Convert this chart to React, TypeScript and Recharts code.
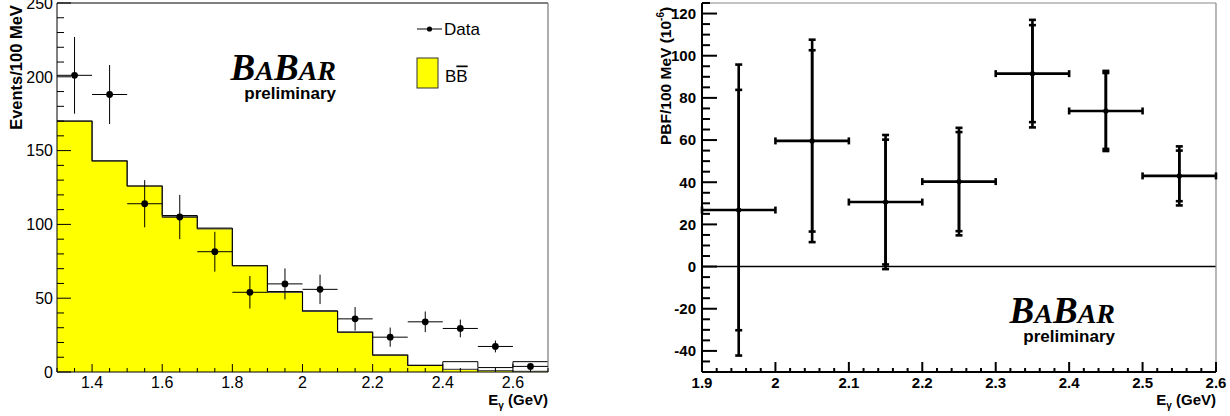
import React from 'react';
import { ComposedChart, Area, Line, Scatter, XAxis, YAxis, ErrorBar, ReferenceLine } from 'recharts';

// ---------- Left panel: photon spectrum ----------
const binLowEdges = [1.3, 1.4, 1.5, 1.6, 1.7, 1.8, 1.9, 2.0, 2.1, 2.2, 2.3, 2.4, 2.5, 2.6];
const binUpperEdge = 2.7;
const bbHist = [170, 143, 126, 105, 97, 72, 54, 41, 27, 11.5, 4.5, 1.8, 1, 0.5];
const totalHist = [170, 143, 126, 106, 97.5, 72, 54.5, 41.5, 27, 11.5, 4.5, 7, 3, 7];
const dataEnergy = [1.35, 1.45, 1.55, 1.65, 1.75, 1.85, 1.95, 2.05, 2.15, 2.25, 2.35, 2.45, 2.55, 2.65];
const dataEvents = [201, 188, 114, 105, 81.5, 54, 59.7, 56, 36, 23.6, 34, 29.5, 17.3, 3.8];
const dataEventsErr = [26, 20, 16, 15, 13.5, 11, 10.5, 10, 8, 6.5, 7, 6, 4, 2];
const dataBinHalfWidth = [0.05, 0.05, 0.05, 0.05, 0.05, 0.05, 0.05, 0.05, 0.05, 0.05, 0.05, 0.05, 0.05, 0.05];

const leftXMajor = [1.4, 1.6, 1.8, 2.0, 2.2, 2.4, 2.6];
const leftXLabels = ['1.4', '1.6', '1.8', '2', '2.2', '2.4', '2.6'];
const leftYMajor = [0, 50, 100, 150, 200, 250];
const leftYLabels = ['0', '50', '100', '150', '200', '250'];

// ---------- Right panel: partial branching fraction ----------
const pbfEnergy = [1.95, 2.05, 2.15, 2.25, 2.35, 2.45, 2.55];
const pbfValue = [26.8, 59.6, 30.6, 40.3, 91.5, 73.8, 43];
const pbfStatErr = [57, 43, 29.6, 23.5, 23, 18, 12];
const pbfTotErr = [69, 48, 31.8, 25.5, 25.5, 19, 14];
const pbfBinHalfWidth = [0.05, 0.05, 0.05, 0.05, 0.05, 0.05, 0.05];

const rightXMajor = [1.9, 2.0, 2.1, 2.2, 2.3, 2.4, 2.5, 2.6];
const rightXLabels = ['1.9', '2', '2.1', '2.2', '2.3', '2.4', '2.5', '2.6'];
const rightYMajor = [-40, -20, 0, 20, 40, 60, 80, 100, 120];
const rightYLabels = ['-40', '-20', '0', '20', '40', '60', '80', '100', '120'];

// tick helpers (major ticks subdivided into minor ones)
function subdivide(lo: number, hi: number, step: number): number[] {
  const out: number[] = [];
  const n = Math.round((hi - lo) / step);
  for (let i = 0; i <= n; i++) out.push(Math.round((lo + i * step) * 1000) / 1000);
  return out;
}
const near = (a: number, b: number) => Math.abs(a - b) < 1e-6;

const histRows = [
  ...binLowEdges.map((x, i) => ({ x, bb: bbHist[i], tot: totalHist[i] })),
  { x: binUpperEdge, bb: bbHist[bbHist.length - 1], tot: totalHist[totalHist.length - 1] },
];
const dataRows = dataEnergy.map((x, i) => ({ x, y: dataEvents[i], ey: dataEventsErr[i], ex: dataBinHalfWidth[i] }));
const pbfRows = pbfEnergy.map((x, i) => ({ x, y: pbfValue[i], stat: pbfStatErr[i], tot: pbfTotErr[i], ex: pbfBinHalfWidth[i] }));

const SANS = '"Liberation Sans", Arial, Helvetica, sans-serif';
const SERIF = '"Liberation Serif", "Times New Roman", serif';

function makeYTick(majors: number[], labels: string[], majorLen: number, minorLen: number, gap: number, font: any, sw: number) {
  return (props: any) => {
    const { x, y, payload } = props;
    const idx = majors.findIndex((m) => near(m, payload.value));
    const isMajor = idx >= 0;
    return (
      <g>
        <line x1={x} y1={y} x2={x + (isMajor ? majorLen : minorLen)} y2={y} stroke="#000" strokeWidth={sw} />
        {isMajor && (
          <text x={x - gap} y={y} dy="0.36em" textAnchor="end" fill="#000" {...font}>
            {labels[idx]}
          </text>
        )}
      </g>
    );
  };
}

function makeXTick(majors: number[], labels: string[], majorLen: number, minorLen: number, gap: number, font: any, sw: number) {
  return (props: any) => {
    const { x, y, payload } = props;
    const idx = majors.findIndex((m) => near(m, payload.value));
    const isMajor = idx >= 0;
    return (
      <g>
        <line x1={x} y1={y} x2={x} y2={y - (isMajor ? majorLen : minorLen)} stroke="#000" strokeWidth={sw} />
        {isMajor && (
          <text x={x} y={y + gap} textAnchor="middle" fill="#000" {...font}>
            {labels[idx]}
          </text>
        )}
      </g>
    );
  };
}

const leftFont = { fontFamily: SANS, fontSize: 16 };
const rightFont = { fontFamily: SANS, fontSize: 15, fontWeight: 'bold' };

const BigDot = (props: any) => {
  const { cx, cy } = props;
  if (cx == null || cy == null) return null;
  return <circle cx={cx} cy={cy} r={3.4} fill="#000" />;
};
const SmallDot = (props: any) => {
  const { cx, cy } = props;
  if (cx == null || cy == null) return null;
  return <circle cx={cx} cy={cy} r={2.6} fill="#000" />;
};

function Logo({ right, baseline }: { right: number; baseline: number }) {
  return (
    <g>
      <text x={right} y={baseline} textAnchor="end" fontFamily={SERIF} fontWeight="bold" fontStyle="italic" fill="#000">
        <tspan fontSize={37}>B</tspan>
        <tspan fontSize={28}>A</tspan>
        <tspan fontSize={37}>B</tspan>
        <tspan fontSize={28}>AR</tspan>
      </text>
      <text x={right} y={baseline + 19} textAnchor="end" fontFamily={SANS} fontWeight="bold" fontSize={17} fill="#000">
        preliminary
      </text>
    </g>
  );
}

export default function App() {
  return (
    <div style={{ position: 'absolute', left: 0, top: 0, width: 1230, height: 416, background: '#fff' }}>
      <div style={{ position: 'absolute', left: 0, top: 0 }}>
        <ComposedChart width={560} height={416} margin={{ top: 3, right: 12, bottom: 14, left: 0 }}>
          <XAxis
            dataKey="x"
            type="number"
            domain={[1.3, 2.7]}
            allowDataOverflow
            ticks={subdivide(1.3, 2.7, 0.05)}
            interval={0}
            tickSize={0}
            tickMargin={0}
            height={30}
            axisLine={{ stroke: '#000', strokeWidth: 1 }}
            tick={makeXTick(leftXMajor, leftXLabels, 8, 4, 16, leftFont, 1)}
          />
          <YAxis
            type="number"
            domain={[0, 250]}
            allowDataOverflow
            ticks={subdivide(0, 250, 10)}
            interval={0}
            tickSize={0}
            tickMargin={0}
            width={57}
            axisLine={{ stroke: '#000', strokeWidth: 1 }}
            tick={makeYTick(leftYMajor, leftYLabels, 14, 7, 4, leftFont, 1)}
          />
          <Area
            data={histRows}
            dataKey="bb"
            type="stepAfter"
            fill="#ffff00"
            fillOpacity={1}
            stroke="#555"
            strokeWidth={1.2}
            isAnimationActive={false}
          />
          <Line
            data={histRows}
            dataKey="tot"
            type="stepAfter"
            stroke="#000"
            strokeWidth={1}
            dot={false}
            isAnimationActive={false}
          />
          <ReferenceLine y={250} stroke="#000" strokeWidth={1} />
          <ReferenceLine x={2.7} stroke="#777" strokeWidth={1.2} />
          <Scatter data={dataRows} dataKey="y" fill="#000" shape={BigDot} isAnimationActive={false}>
            <ErrorBar dataKey="ey" direction="y" width={0} stroke="#000" strokeWidth={1} />
            <ErrorBar dataKey="ex" direction="x" width={0} stroke="#000" strokeWidth={1} />
          </Scatter>
        </ComposedChart>
      </div>

      <div style={{ position: 'absolute', left: 620, top: 0 }}>
        <ComposedChart width={610} height={416} margin={{ top: 3, right: 14, bottom: 14, left: 0 }}>
          <XAxis
            dataKey="x"
            type="number"
            domain={[1.9, 2.6]}
            allowDataOverflow
            ticks={subdivide(1.9, 2.6, 0.02)}
            interval={0}
            tickSize={0}
            tickMargin={0}
            height={30}
            axisLine={{ stroke: '#000', strokeWidth: 2 }}
            tick={makeXTick(rightXMajor, rightXLabels, 10, 4, 16, rightFont, 2)}
          />
          <YAxis
            type="number"
            domain={[-50, 125]}
            allowDataOverflow
            ticks={subdivide(-50, 125, 5)}
            interval={0}
            tickSize={0}
            tickMargin={0}
            width={82}
            axisLine={{ stroke: '#000', strokeWidth: 2 }}
            tick={makeYTick(rightYMajor, rightYLabels, 15, 8, 6, rightFont, 2)}
          />
          <ReferenceLine y={0} stroke="#000" strokeWidth={1.5} />
          <ReferenceLine y={125} stroke="#888" strokeWidth={1.2} />
          <ReferenceLine x={2.6} stroke="#888" strokeWidth={1.2} />
          <Scatter data={pbfRows} dataKey="y" fill="#000" shape={SmallDot} isAnimationActive={false}>
            <ErrorBar dataKey="tot" direction="y" width={3.5} stroke="#000" strokeWidth={2.6} />
            <ErrorBar dataKey="stat" direction="y" width={3.5} stroke="#000" strokeWidth={2.6} />
            <ErrorBar dataKey="ex" direction="x" width={3.5} stroke="#000" strokeWidth={2.6} />
          </Scatter>
        </ComposedChart>
      </div>

      <svg
        width={1230}
        height={416}
        style={{ position: 'absolute', left: 0, top: 0, pointerEvents: 'none' }}
      >
        {/* left axis titles */}
        <text
          transform="translate(21.5,67.5) rotate(-90)"
          textAnchor="middle"
          fontFamily={SANS}
          fontWeight="bold"
          fontSize={16.5}
          fill="#000"
        >
          Events/100 MeV
        </text>
        <text x={548} y={405} textAnchor="end" fontFamily={SANS} fontWeight="bold" fontSize={15} fill="#000">
          E<tspan fontSize={10} dy={4}>γ</tspan>
          <tspan dy={-4}> (GeV)</tspan>
        </text>

        {/* legend */}
        <line x1={417} y1={29} x2={442} y2={29} stroke="#000" strokeWidth={1} />
        <circle cx={429.5} cy={29} r={2.6} fill="#000" />
        <text x={444} y={35} fontFamily={SANS} fontSize={17} fill="#000">
          Data
        </text>
        <rect x={417} y={58} width={21} height={30} fill="#ffff00" stroke="#333" strokeWidth={1} />
        <text x={445} y={81.5} fontFamily={SANS} fontSize={17} fill="#000">
          B<tspan style={{ textDecoration: 'overline' }}>B</tspan>
        </text>

        <Logo right={336} baseline={80} />

        {/* right axis titles */}
        <text
          transform="translate(671,145) rotate(-90)"
          textAnchor="start"
          fontFamily={SANS}
          fontWeight="bold"
          fontSize={15.5}
          fill="#000"
        >
          PBF/100 MeV (10<tspan fontSize={10} dy={-7}>-6</tspan>
          <tspan dy={7}>)</tspan>
        </text>
        <text x={1216} y={405} textAnchor="end" fontFamily={SANS} fontWeight="bold" fontSize={15} fill="#000">
          E<tspan fontSize={10} dy={4}>γ</tspan>
          <tspan dy={-4}> (GeV)</tspan>
        </text>

        <Logo right={1115} baseline={323} />
      </svg>
    </div>
  );
}
